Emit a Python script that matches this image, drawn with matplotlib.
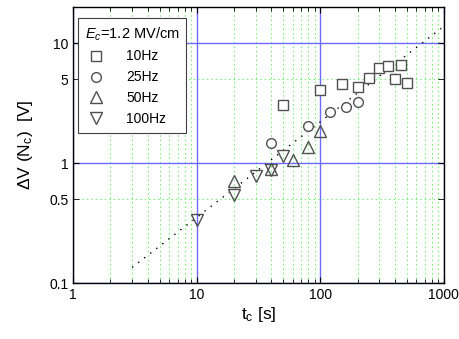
import numpy as np
import matplotlib
matplotlib.use("Agg")
import matplotlib.pyplot as plt
from matplotlib.ticker import FixedLocator, FixedFormatter, NullFormatter

plt.rcParams['font.family'] = ['Liberation Sans', 'DejaVu Sans']
plt.rcParams['mathtext.fontset'] = 'custom'
plt.rcParams['mathtext.rm'] = 'Liberation Sans'
plt.rcParams['mathtext.it'] = 'Liberation Sans:italic'

# 10Hz
t10 = [50, 100, 150, 200, 250, 300, 350, 400, 450, 500]
v10 = [3.05, 4.1, 4.55, 4.3, 5.1, 6.2, 6.4, 5.05, 6.6, 4.65]
# 25Hz
t25 = [40, 80, 120, 160, 200]
v25 = [1.48, 2.05, 2.65, 2.93, 3.22]
# 50Hz
t50 = [20, 40, 60, 80, 100]
v50 = [0.71, 0.89, 1.06, 1.36, 1.85]
# 100Hz
t100 = [10, 20, 30, 40, 50]
v100 = [0.335, 0.54, 0.78, 0.88, 1.15]
# fit line (dotted)
tfit = [3, 950]
vfit = [0.135, 13.3]

fig = plt.figure(figsize=(4.6, 3.39), dpi=100)
ax = fig.add_axes([0.159, 0.165, 0.806, 0.814])
ax.set_xscale('log')
ax.set_yscale('log')
ax.set_xlim(1, 1000)
ax.set_ylim(0.1, 20)

gray = '#505050'
ax.plot(t10, v10, 's', mfc='white', mec=gray, ms=6.5, mew=1, label='10Hz', zorder=3)
ax.plot(t25, v25, 'o', mfc='white', mec=gray, ms=7, mew=1, label='25Hz', zorder=3)
ax.plot(t50, v50, '^', mfc='none', mec=gray, ms=8, mew=1, label='50Hz', zorder=3)
ax.plot(t100, v100, 'v', mfc='none', mec=gray, ms=8, mew=1, label='100Hz', zorder=3)
ax.plot(tfit, vfit, color='black', lw=1, linestyle=(0, (1, 4.5)), zorder=2)

# ticks
ax.xaxis.set_major_locator(FixedLocator([1, 10, 100, 1000]))
ax.xaxis.set_major_formatter(FixedFormatter(['1', '10', '100', '1000']))
minx = [k * 10**e for e in range(3) for k in range(2, 10)]
ax.xaxis.set_minor_locator(FixedLocator(minx))
ax.xaxis.set_minor_formatter(NullFormatter())
ax.yaxis.set_major_locator(FixedLocator([0.1, 1, 10]))
ax.yaxis.set_major_formatter(FixedFormatter(['0.1', '1', '10']))
ax.yaxis.set_minor_locator(FixedLocator([0.5, 5]))
ax.yaxis.set_minor_formatter(FixedFormatter(['0.5', '5']))

ax.tick_params(which='both', direction='in', top=True, right=True, labelsize=10, colors='black')
ax.tick_params(which='major', length=4)
ax.tick_params(which='minor', length=3)
ax.tick_params(axis='y', which='minor', length=4)

ax.grid(which='major', color='#6b6bff', lw=1, ls='-', zorder=0)
ax.grid(which='minor', color='#7fef7f', lw=0.8, ls=(0, (1.5, 2.5)), zorder=0)

for s in ax.spines.values():
    s.set_linewidth(1)

ax.set_xlabel(r't$_\mathrm{c}$ [s]', fontsize=12.5, labelpad=2)
ax.set_ylabel(r'$\Delta$V (N$_\mathrm{c}$)  [V]', fontsize=12.5, labelpad=10)

leg = ax.legend(loc='upper left', bbox_to_anchor=(0.012, 0.96), title=r'$E_c$=1.2 MV/cm',
                fontsize=10, title_fontsize=10.5,
                frameon=True, fancybox=False, edgecolor='#404040', framealpha=1,
                borderaxespad=0.0, borderpad=0.5, handlelength=1.6, handletextpad=1.4,
                labelspacing=0.5, alignment='left')
leg.get_frame().set_linewidth(0.8)

fig.savefig('out.png', dpi=100)
